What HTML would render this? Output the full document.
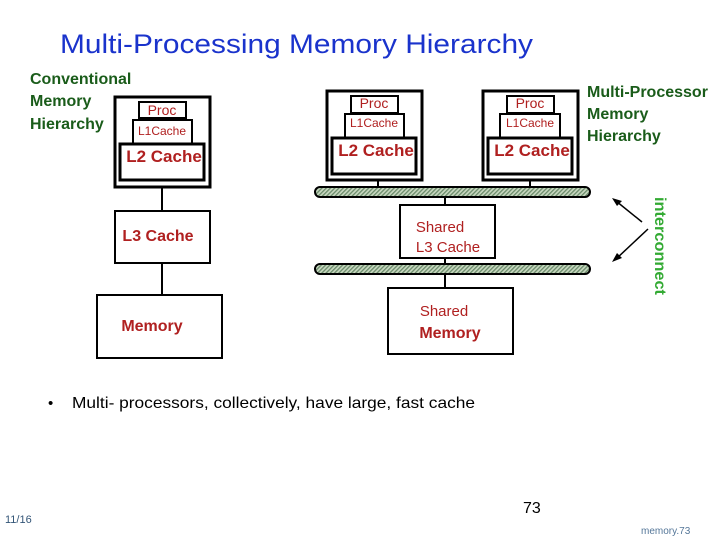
<!DOCTYPE html>
<html><head><style>body{margin:0;background:#fff}svg{display:block}</style></head><body>
<svg width="720" height="540" xmlns="http://www.w3.org/2000/svg" font-family="Liberation Sans, Arial, sans-serif">
<defs><pattern id="h" width="3" height="3" patternUnits="userSpaceOnUse" patternTransform="rotate(45)"><rect width="3" height="3" fill="#c8d8c0"/><rect width="1.3" height="3" fill="#6a8a6a"/></pattern></defs>
<text x="60" y="53" font-size="27" fill="#1a33cc" textLength="473" lengthAdjust="spacingAndGlyphs">Multi-Processing Memory Hierarchy</text>
<g fill="#1a5c1a" font-size="16" font-weight="bold"><text x="30" y="84">Conventional</text><text x="30" y="106">Memory</text><text x="30" y="129">Hierarchy</text>
<text x="587" y="97">Multi-Processor</text><text x="587" y="119">Memory</text><text x="587" y="141">Hierarchy</text></g>
<g fill="none" stroke="#000" stroke-width="3">
<rect x="115" y="97" width="95" height="90"/><rect x="120" y="144" width="84" height="36"/>
<rect x="327" y="91" width="95" height="89"/><rect x="332" y="138" width="84" height="36"/>
<rect x="483" y="91" width="95" height="89"/><rect x="488" y="138" width="84" height="36"/>
</g>
<g fill="none" stroke="#000" stroke-width="2">
<rect x="139" y="102" width="47" height="16"/><rect x="133" y="120" width="59" height="24"/>
<rect x="351" y="96" width="47" height="17"/><rect x="345" y="114" width="59" height="24"/>
<rect x="507" y="96" width="47" height="17"/><rect x="500" y="114" width="60" height="24"/>
<rect x="115" y="211" width="95" height="52"/><rect x="97" y="295" width="125" height="63"/>
<rect x="400" y="205" width="95" height="53"/><rect x="388" y="288" width="125" height="66"/>
<line x1="162" y1="187" x2="162" y2="211"/><line x1="162" y1="263" x2="162" y2="295"/>
<line x1="378" y1="180" x2="378" y2="187"/><line x1="530" y1="180" x2="530" y2="187"/>
<line x1="445" y1="197" x2="445" y2="205"/><line x1="445" y1="258" x2="445" y2="264"/><line x1="445" y1="274" x2="445" y2="288"/>
<rect x="315" y="187" width="275" height="10" rx="5" fill="url(#h)"/>
<rect x="315" y="264" width="275" height="10" rx="5" fill="url(#h)"/>
</g>
<g stroke="#000" stroke-width="1.5"><line x1="642" y1="222" x2="616" y2="201"/><line x1="648" y1="229" x2="616" y2="259"/></g>
<polygon points="612,198 622,201 617,206" fill="#000"/><polygon points="612,262 617,253 622,258" fill="#000"/>
<g fill="#b02020" text-anchor="middle">
<text x="162" y="115" font-size="14">Proc</text><text x="162" y="135" font-size="12">L1Cache</text><text x="164" y="162" font-size="17" font-weight="bold">L2 Cache</text>
<text x="374" y="108" font-size="14">Proc</text><text x="374" y="127" font-size="12">L1Cache</text><text x="376" y="156" font-size="17" font-weight="bold">L2 Cache</text>
<text x="530" y="108" font-size="14">Proc</text><text x="530" y="127" font-size="12">L1Cache</text><text x="532" y="156" font-size="17" font-weight="bold">L2 Cache</text>
<text x="158" y="241" font-size="16" font-weight="bold">L3 Cache</text><text x="152" y="331" font-size="16" font-weight="bold">Memory</text>
<text x="440" y="232" font-size="15">Shared</text><text x="448" y="252" font-size="15">L3 Cache</text>
<text x="444" y="316" font-size="15">Shared</text><text x="450" y="338" font-size="16" font-weight="bold">Memory</text>
</g>
<text transform="translate(655,197) rotate(90)" font-size="16" font-weight="bold" fill="#33aa33" textLength="98" lengthAdjust="spacingAndGlyphs">interconnect</text>
<text x="48" y="408" font-size="15">•</text><text x="72" y="408" font-size="16" textLength="403" lengthAdjust="spacingAndGlyphs">Multi- processors, collectively, have large, fast cache</text>
<text x="523" y="513" font-size="16">73</text>
<text x="5" y="523" font-size="11" fill="#335577">11/16</text>
<text x="641" y="534" font-size="10" fill="#557799">memory.73</text>
</svg>
</body></html>
